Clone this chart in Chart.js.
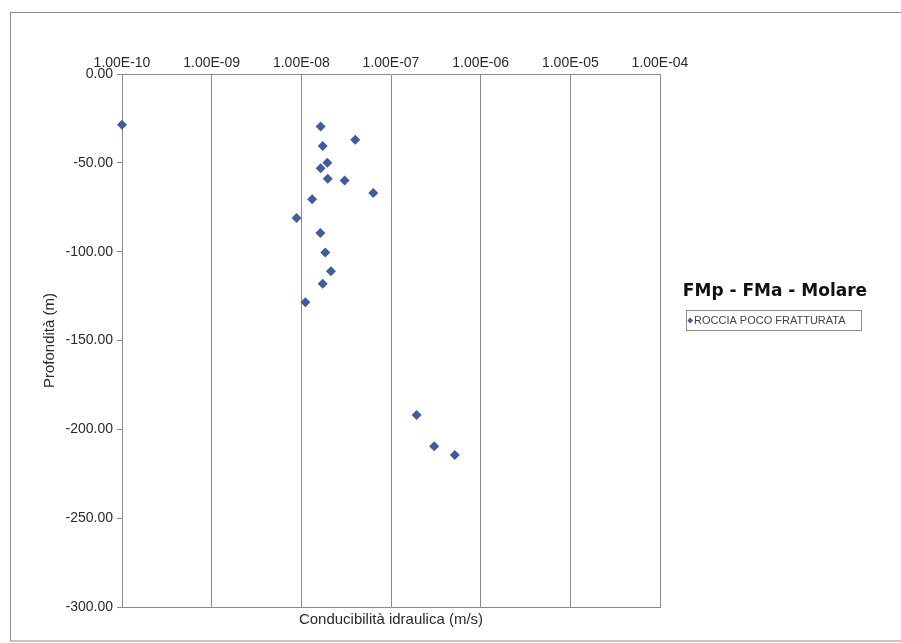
<!DOCTYPE html>
<html>
<head>
<meta charset="utf-8">
<script src="https://cdn.jsdelivr.net/npm/chart.js@4/dist/chart.umd.min.js"></script>
<style>
  html, body { margin: 0; padding: 0; background: #fff; }
  canvas { display: block; }
</style>
</head>
<body>
<canvas id="chartScatter" width="901" height="643"></canvas>
<script>
// conducibilità idraulica (m/s) e profondità (m)
const conductivity = [1.0e-10, 1.64e-8, 3.99e-8, 1.73e-8, 1.95e-8, 1.64e-8, 1.97e-8, 3.04e-8, 6.34e-8, 1.32e-8,
    8.85e-9, 1.63e-8, 1.85e-8, 2.14e-8, 1.73e-8, 1.11e-8, 1.93e-7, 3.03e-7, 5.15e-7];
const depth = [-28.5, -29.5, -37, -40.5, -50, -53, -59, -60, -67, -70.5,
    -81, -89.5, -100.5, -111, -118, -128.5, -192, -209.5, -214.5];
const seriesName = "ROCCIA POCO FRATTURATA";
const chartTitle = "FMp - FMa - Molare";
const xTicks = [1e-10, 1e-9, 1e-8, 1e-7, 1e-6, 1e-5, 1e-4];
const xTickLabels = ["1.00E-10", "1.00E-09", "1.00E-08", "1.00E-07", "1.00E-06", "1.00E-05", "1.00E-04"];
const yTicks = [0, -50, -100, -150, -200, -250, -300];
const yTickLabels = ["0.00", "-50.00", "-100.00", "-150.00", "-200.00", "-250.00", "-300.00"];

const markerColor = "#3F5C9C";
const lineColor = "#8a8a8a";
const textColor = "#2a2a2a";

const frame = {
    id: "frame",
    beforeDraw(chart) {
        const c = chart.ctx;
        c.save();
        c.fillStyle = "#fff";
        c.fillRect(0, 0, chart.width, chart.height);
        c.strokeStyle = lineColor;
        c.lineWidth = 1;
        c.strokeRect(10.5, 12.5, 900, 628.5);
        c.restore();
    },
    afterDraw(chart) {
        const c = chart.ctx;
        c.save();
        c.fillStyle = "#111";
        c.font = "bold 17px 'DejaVu Sans'";
        c.textAlign = "center";
        c.textBaseline = "middle";
        c.fillText(chartTitle, 775, 292);

        // riquadro legenda
        c.strokeStyle = lineColor;
        c.lineWidth = 1;
        c.strokeRect(686.5, 310.5, 175, 20);
        c.fillStyle = markerColor;
        c.beginPath();
        c.moveTo(690, 317.5);
        c.lineTo(693, 320.5);
        c.lineTo(690, 323.5);
        c.lineTo(687.5, 320.5);
        c.closePath();
        c.fill();
        c.fillStyle = "#444";
        c.font = "11px 'Liberation Sans'";
        c.textAlign = "left";
        c.fillText(chart.data.datasets[0].label, 694, 321);
        c.restore();
    },
};

const ctx = document.getElementById("chartScatter");
new Chart(ctx, {
    type: "scatter",
    data: {
        datasets: [
            {
                label: seriesName,
                data: conductivity.map((k, i) => ({ x: k, y: depth[i] })),
                backgroundColor: markerColor,
                borderColor: markerColor,
                pointStyle: "rectRot",
                pointRadius: 5,
                pointHoverRadius: 5,
                borderWidth: 0,
                clip: false,
            },
        ],
    },
    options: {
        responsive: false,
        animation: false,
        layout: { padding: { left: 0, top: 0, right: 241, bottom: 0 } },
        plugins: {
            legend: { display: false },
            tooltip: { enabled: false },
        },
        scales: {
            x: {
                type: "logarithmic",
                position: "top",
                min: 1e-10,
                max: 1e-4,
                afterBuildTicks: (scale) => {
                    scale.ticks = xTicks.map((v) => ({ value: v }));
                },
                afterFit: (scale) => {
                    scale.height = 74;
                },
                ticks: {
                    autoSkip: false,
                    maxRotation: 0,
                    padding: 2,
                    color: textColor,
                    font: { size: 14, family: "'Liberation Sans', Arial" },
                    callback: (v, i) => xTickLabels[i],
                },
                grid: { color: lineColor, drawTicks: false },
                border: { display: true, color: lineColor },
            },
            x2: {
                type: "logarithmic",
                position: "bottom",
                min: 1e-10,
                max: 1e-4,
                afterFit: (scale) => {
                    scale.height = 36;
                },
                ticks: { display: false },
                grid: { display: false },
                border: { display: true, color: lineColor },
                title: {
                    display: true,
                    text: "Conducibilità idraulica (m/s)",
                    color: textColor,
                    padding: { top: 0, bottom: 14 },
                    font: { size: 15, family: "'Liberation Sans', Arial" },
                },
            },
            y: {
                min: -300,
                max: 0,
                afterBuildTicks: (scale) => {
                    scale.ticks = yTicks.map((v) => ({ value: v }));
                },
                afterFit: (scale) => {
                    scale.width = 122;
                },
                ticks: {
                    padding: 4,
                    color: textColor,
                    font: { size: 14, family: "'Liberation Sans', Arial" },
                    callback: (v, i) => yTickLabels[i],
                },
                grid: { drawOnChartArea: false, drawTicks: true, tickLength: 5, color: lineColor },
                border: { display: true, color: lineColor },
                title: {
                    display: true,
                    text: "Profondità (m)",
                    color: textColor,
                    padding: { top: 41, bottom: 0 },
                    font: { size: 15, family: "'Liberation Sans', Arial" },
                },
            },
        },
    },
    plugins: [frame],
});
</script>
</body>
</html>
